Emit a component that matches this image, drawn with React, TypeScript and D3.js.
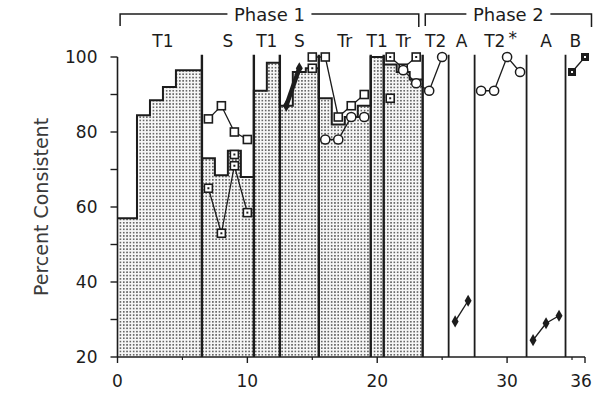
import React from 'react';
import * as d3 from 'd3';

// session-by-session values
const sessions = d3.range(1, 24);
const stippleValues = [57, 84.5, 88.5, 92, 96.5, 96.5, 73, 68.5, 75, 68, 91, 98.5, 87, 96, 97, 89, 82, 84, 87, 100, 98, 96, 94];

const phaseLabels = ['T1', 'S', 'T1', 'S', 'Tr', 'T1', 'Tr', 'T2', 'A', 'T2*', 'A', 'B'];
const phaseEnds = [6.5, 10.5, 12.5, 15.5, 19.5, 20.5, 23.5, 25.5, 27.5, 31.5, 34.5, 36];

const groupNames = ['Phase 1', 'Phase 2'];
const groupFrom = [0.2, 23.7];
const groupTo = [23.2, 36.5];

// marker series, split into connected segments: [session, percent]
const openSquares = [
  [[7, 83.5], [8, 87], [9, 80], [10, 78]],
  [[15, 100], [16, 100], [17, 84], [18, 87], [19, 90]],
];
const dotSquares = [
  [[7, 65], [8, 53], [9, 71], [10, 58.5]],
  [[9, 74]],
  [[15, 97]],
  [[21, 100], [22, 97], [23, 100]],
  [[21, 89]],
];
const circles = [
  [[16, 78], [17, 78], [18, 84], [19, 84]],
  [[22, 96.5], [23, 93], [24, 91], [25, 100]],
  [[28, 91], [29, 91], [30, 100], [31, 96]],
];
const diamonds = [
  [[13, 87], [14, 97]],
  [[26, 29.5], [27, 35]],
  [[32, 24.5], [33, 29], [34, 31]],
];
const filledSquares = [
  [[35, 96], [36, 100]],
];

const yTicks = [20, 40, 60, 80, 100];
const yMinor = [30, 50, 70, 90];
const xTicks = [0, 10, 20, 30, 36];
const xMinor = [5, 15, 25, 35];

const INK = '#1c1c1c';
const FONT = '"DejaVu Sans", Verdana, sans-serif';

export default function App() {
  const width = 594;
  const height = 398;

  const x = d3.scaleLinear().domain([0, 36]).range([117.5, 585]);
  const y = d3.scaleLinear().domain([20, 100]).range([357, 57]);

  // stepped stipple area
  const stepPts = sessions.map((s, i) => ({ x: i === 0 ? 0 : s - 0.5, v: stippleValues[i] }));
  stepPts.push({ x: sessions[sessions.length - 1] + 0.5, v: stippleValues[stippleValues.length - 1] });
  const area = d3.area<any>().x(d => x(d.x)).y0(y(20)).y1(d => y(d.v)).curve(d3.curveStepAfter);
  const topLine = d3.line<any>().x(d => x(d.x)).y(d => y(d.v)).curve(d3.curveStepAfter);

  const line = d3.line<any>().x(d => x(d[0])).y(d => y(d[1]));
  const diamond = d3.symbol().type(d3.symbolDiamond).size(42)();

  const phaseStarts = [0.5, ...phaseEnds.slice(0, -1)];

  const segLines = (segs: number[][][], w = 1.3) =>
    segs.filter(s => s.length > 1).map((s, i) => (
      <path key={i} d={line(s as any) || ''} fill="none" stroke={INK} strokeWidth={w} />
    ));

  return (
    <svg width={width} height={height} style={{ position: 'absolute', left: 0, top: 0, background: '#fff' }}>
      <defs>
        <pattern id="stip" width={3.3} height={3.3} patternUnits="userSpaceOnUse">
          <rect width={3.3} height={3.3} fill="#f6f6f6" />
          <circle cx={1.65} cy={1.65} r={0.85} fill="#3a3a3a" />
        </pattern>
      </defs>

      {/* stipple area */}
      <path d={area(stepPts) || ''} fill="url(#stip)" />
      <path d={topLine(stepPts) || ''} fill="none" stroke={INK} strokeWidth={2} />

      {/* phase boundaries */}
      {phaseEnds.slice(0, -1).map((e, i) => (
        <line key={i} x1={x(e)} x2={x(e)} y1={y(100.6)} y2={y(20)} stroke={INK} strokeWidth={e < 24 ? 2.4 : 1.8} />
      ))}

      {/* connecting lines */}
      {segLines(openSquares)}
      {segLines(dotSquares)}
      {segLines(circles)}
      {diamonds.filter(s => s.length > 1).map((s, i) => (
        <path key={i} d={line(s as any) || ''} fill="none" stroke={INK} strokeWidth={s[0][0] < 23.5 ? 4.5 : 1.4} />
      ))}
      {segLines(filledSquares)}

      {/* markers */}
      {openSquares.flat().map((p, i) => (
        <rect key={i} x={x(p[0]) - 4} y={y(p[1]) - 4} width={8} height={8} fill="#fff" stroke={INK} strokeWidth={1.6} />
      ))}
      {dotSquares.flat().map((p, i) => (
        <g key={i}>
          <rect x={x(p[0]) - 4} y={y(p[1]) - 4} width={8} height={8} fill="#fff" stroke={INK} strokeWidth={1.6} />
          <rect x={x(p[0]) - 1} y={y(p[1]) - 1} width={2} height={2} fill={INK} />
        </g>
      ))}
      {circles.flat().map((p, i) => (
        <circle key={i} cx={x(p[0])} cy={y(p[1])} r={4.6} fill="#fff" stroke={INK} strokeWidth={1.5} />
      ))}
      {diamonds.flat().map((p, i) => (
        <path key={i} d={diamond || ''} transform={`translate(${x(p[0])},${y(p[1])})`} fill={INK} />
      ))}
      {filledSquares.flat().map((p, i) => (
        <g key={i}>
          <rect x={x(p[0]) - 4} y={y(p[1]) - 4} width={8} height={8} fill={INK} />
          <rect x={x(p[0]) - 1} y={y(p[1]) - 1} width={2} height={2} fill="#fff" />
        </g>
      ))}

      {/* y axis */}
      <line x1={x(0)} x2={x(0)} y1={y(100)} y2={y(20)} stroke={INK} strokeWidth={1.6} />
      {[...yTicks, ...yMinor].map(t => (
        <line key={t} x1={x(0) - 7} x2={x(0)} y1={y(t)} y2={y(t)} stroke={INK} strokeWidth={1.4} />
      ))}
      {yTicks.map(t => (
        <text key={t} x={x(0) - 20} y={y(t)} textAnchor="end" dominantBaseline="central"
          fontFamily={FONT} fontSize={17} fill={INK}>{t}</text>
      ))}
      <text transform={`translate(41,${y(60)}) rotate(-90)`} textAnchor="middle" dominantBaseline="central"
        fontFamily={FONT} fontSize={19} fill="#3a3a3a">Percent Consistent</text>

      {/* x axis */}
      <line x1={x(0)} x2={x(36)} y1={y(20)} y2={y(20)} stroke={INK} strokeWidth={1.6} />
      {xTicks.map(t => (
        <line key={t} x1={x(t)} x2={x(t)} y1={y(20)} y2={y(20) + 6} stroke={INK} strokeWidth={1.4} />
      ))}
      {xMinor.map(t => (
        <line key={t} x1={x(t)} x2={x(t)} y1={y(20)} y2={y(20) + 3} stroke={INK} strokeWidth={1.2} />
      ))}
      {xTicks.map(t => (
        <text key={t} x={Math.min(x(t), width - 13)} y={387} textAnchor="middle" fontFamily={FONT} fontSize={17} fill={INK}>{t}</text>
      ))}

      {/* phase labels */}
      {phaseLabels.map((lab, i) => {
        const cx = x((phaseStarts[i] + phaseEnds[i]) / 2);
        const star = lab.endsWith('*');
        return (
          <text key={i} x={cx} y={47} textAnchor="middle" fontFamily={FONT} fontSize={17} fill={INK}>
            {star ? lab.slice(0, -1) : lab}
            {star && <tspan dx={3} dy={-3}>*</tspan>}
          </text>
        );
      })}

      {/* phase group brackets */}
      {groupNames.map((name, i) => {
        const x0 = x(groupFrom[i]);
        const x1 = x(groupTo[i]);
        const cx = (x0 + x1) / 2;
        const half = 42;
        return (
          <g key={name} stroke={INK} strokeWidth={1.5} fill="none">
            <path d={`M${x0},26V14H${cx - half}M${cx + half},14H${x1}V27`} />
            <text x={cx} y={21} textAnchor="middle" stroke="none" fill={INK} fontFamily={FONT} fontSize={18}>{name}</text>
          </g>
        );
      })}
    </svg>
  );
}
